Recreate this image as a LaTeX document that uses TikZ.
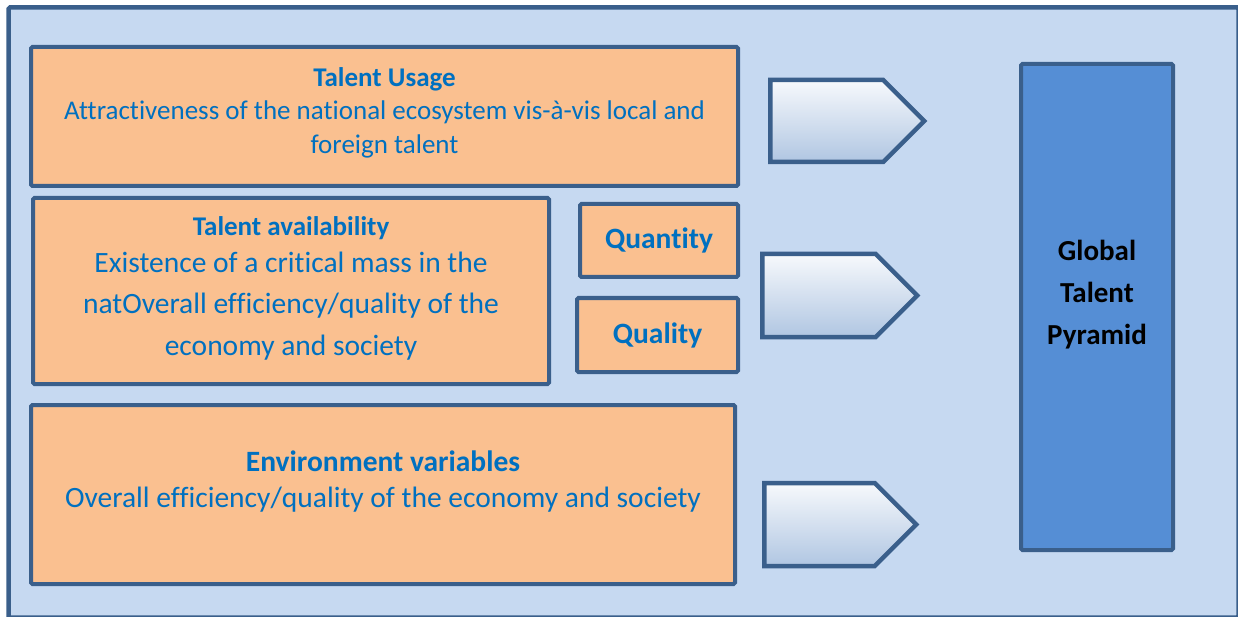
\documentclass[tikz,border=0pt]{standalone}
\usepackage{fontspec}
\setmainfont{Carlito}[Ligatures=NoCommon]
\usetikzlibrary{shapes.symbols}
\definecolor{frameblue}{HTML}{3A5F8B}
\definecolor{panelbg}{HTML}{C6D9F1}
\definecolor{boxorange}{HTML}{FAC090}
\definecolor{textblue}{HTML}{0070C0}
\definecolor{pyrblue}{HTML}{558ED5}
\definecolor{arrowtop}{HTML}{F7F9FC}
\definecolor{arrowbot}{HTML}{B0C6E2}

\begin{document}
\begin{tikzpicture}[x=1pt, y=-1pt,
    panel/.style={draw=frameblue, line width=4pt, rounded corners=1.5pt,
                  fill=boxorange, inner sep=0pt},
    txt/.style={text=textblue, align=center, inner sep=0pt},
    chev/.style={shape=signal, signal to=east, signal pointer angle=90,
                 draw=frameblue, line width=4.5pt, inner sep=0pt, anchor=west,
                 top color=arrowtop, bottom color=arrowbot}]
  \useasboundingbox (0,0) rectangle (1238,617);
  % outer panel
  \draw[draw=frameblue, line width=4.5pt, fill=panelbg, rounded corners=1.5pt]
    (8.5,7.5) rectangle (1238.5,617.5);

  % left column
  \node[panel, minimum width=707pt, minimum height=139pt] (usage) at (384.5,116.5) {};
  \node[panel, minimum width=516pt, minimum height=186pt] (avail) at (291,291) {};
  \node[panel, minimum width=158pt, minimum height=73pt] (qty) at (659,240.5)
    {\color{textblue}\fontsize{29.5}{30}\selectfont\bfseries Quantity};
  \node[panel, minimum width=161pt, minimum height=74pt] (qual) at (657.5,335)
    {\color{textblue}\fontsize{29.5}{30}\selectfont\bfseries Quality};
  \node[panel, minimum width=704pt, minimum height=179pt] (env) at (383,494.5) {};

  \node[txt, font=\fontsize{27}{33.5}\selectfont] (usagetxt) at (384.5,112.5)
    {{\bfseries Talent Usage}\\
     Attractiveness of the national ecosystem vis-à-vis local and\\
     foreign talent};
  \node[txt, font=\fontsize{29.5}{41.5}\selectfont] (availtxt) at (291,288.5)
    {{\fontsize{27}{33}\selectfont\bfseries Talent availability}\\[-5pt]
     Existence of a critical mass in the\\
     natOverall efficiency/quality of the\\
     economy and society};
  \node[txt, font=\fontsize{29.5}{36}\selectfont] (envtxt) at (383,481.5)
    {{\bfseries Environment variables}\\
     Overall efficiency/quality of the economy and society};

  % arrows
  \node[chev, minimum width=154pt, minimum height=82pt] (ch1) at (768,121) {};
  \node[chev, minimum width=155pt, minimum height=83pt] (ch2) at (760,295.5) {};
  \node[chev, minimum width=152pt, minimum height=83pt] (ch3) at (762,524.5) {};

  % result
  \node[draw=frameblue, line width=4pt, rounded corners=1.5pt, fill=pyrblue,
        minimum width=152pt, minimum height=486pt] (pyr) at (1097,307) {};
  \node[align=center, inner sep=0pt, font=\fontsize{29}{42}\selectfont\bfseries]
    (pyrtxt) at (1097,294.5) {Global\\Talent\\Pyramid};
\end{tikzpicture}
\end{document}
